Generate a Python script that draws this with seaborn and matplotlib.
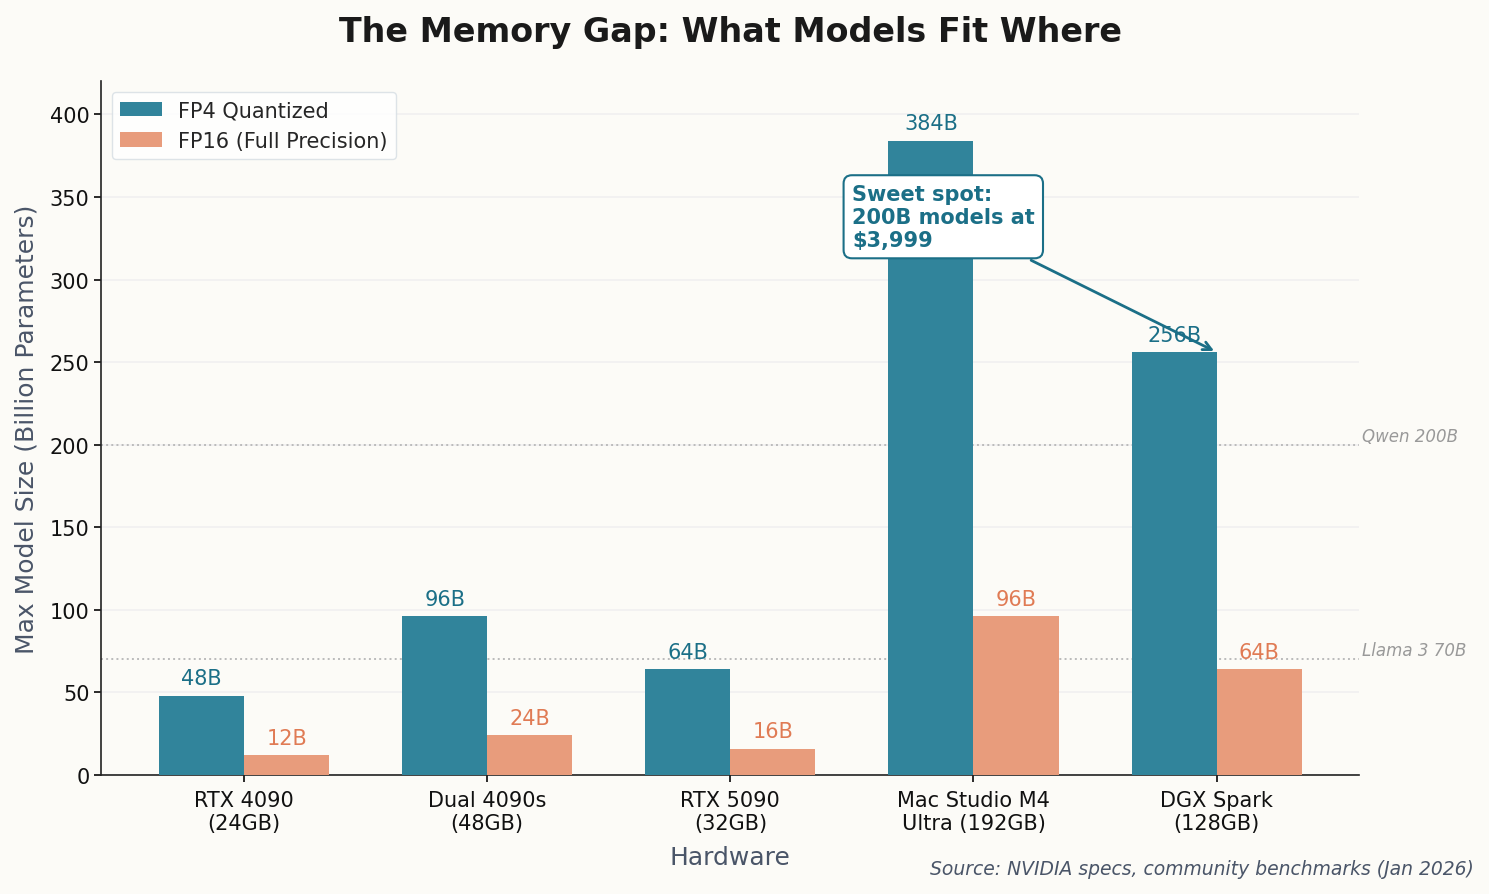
import matplotlib
matplotlib.use("Agg")
import matplotlib.pyplot as plt
import seaborn as sns
import pandas as pd

hardware = ["RTX 4090\n(24GB)", "Dual 4090s\n(48GB)", "RTX 5090\n(32GB)",
            "Mac Studio M4\nUltra (192GB)", "DGX Spark\n(128GB)"]
fp4 = [48, 96, 64, 384, 256]
fp16 = [12, 24, 16, 96, 64]
series = ["FP4 Quantized", "FP16 (Full Precision)"]
ref_lines = [200, 70]
ref_labels = ["Qwen 200B", "Llama 3 70B"]

teal = "#31849B"
salmon = "#E89C7C"
teal_txt = "#1B6F87"
salmon_txt = "#E07B54"
bg = "#FCFBF7"
muted = "#4A5568"

df = pd.DataFrame({
    "Hardware": hardware * 2,
    "Size": fp4 + fp16,
    "Precision": [series[0]] * len(hardware) + [series[1]] * len(hardware),
})

sns.set_theme(style="white")
plt.rcParams['font.family'] = ['DejaVu Sans']

fig, ax = plt.subplots(figsize=(14.89, 8.95), dpi=100)
fig.patch.set_facecolor(bg)
ax.set_facecolor(bg)

sns.barplot(data=df, x="Hardware", y="Size", hue="Precision",
            palette=[teal, salmon], width=0.7, gap=0, saturation=1,
            linewidth=0, edgecolor="none", ax=ax, zorder=3)

for cont, col in zip(ax.containers, [teal_txt, salmon_txt]):
    ax.bar_label(cont, labels=[f"{int(v)}B" for v in cont.datavalues],
                 padding=5.5, color=col, fontsize=15)

ax.set_ylim(0, 420)
ax.set_xlim(-0.5875, 4.5875)
ax.yaxis.grid(True, color="#F0F0F0", linewidth=1.2, zorder=0)
ax.set_axisbelow(True)
for s in ["top", "right"]:
    ax.spines[s].set_visible(False)
for s in ["left", "bottom"]:
    ax.spines[s].set_color("#222222")
    ax.spines[s].set_linewidth(1.2)
ax.tick_params(axis="both", labelsize=15, colors="#111111", length=5, left=True, bottom=True)
ax.tick_params(axis="x", pad=6)

xmin, xmax = ax.get_xlim()
for val, lab in zip(ref_lines, ref_labels):
    ax.axhline(val, color="#BBBBBB", linestyle=":", linewidth=1.4, zorder=1)
    ax.text(xmax + 0.01, val, lab, fontsize=12, style="italic", color="#999999",
            ha="left", va="bottom")

ax.set_xlabel("Hardware", fontsize=18, color=muted, labelpad=8)
ax.set_ylabel("Max Model Size (Billion Parameters)", fontsize=18, color=muted, labelpad=8)
ax.set_title("The Memory Gap: What Models Fit Where", fontsize=24, fontweight="bold",
             color="#1a1a1a", pad=29)

leg = ax.legend(loc="upper left", fontsize=15, frameon=True, title=None,
                handlelength=2.0)
leg.get_frame().set_facecolor("white")
leg.get_frame().set_edgecolor("#D5DDE3")

ax.annotate("Sweet spot:\n200B models at\n$3,999", xy=(4.0, 256), xytext=(2.5, 338),
            fontsize=15, fontweight="bold", color=teal_txt, ha="left", va="center",
            bbox=dict(boxstyle="round,pad=0.4", fc="white", ec=teal_txt, lw=1.5),
            arrowprops=dict(arrowstyle="->", color=teal_txt, lw=2), zorder=5)

fig.text(0.99, 0.018, "Source: NVIDIA specs, community benchmarks (Jan 2026)",
         ha="right", va="bottom", fontsize=13.5, style="italic", color=muted)

fig.subplots_adjust(left=0.068, right=0.913, top=0.908, bottom=0.133)
fig.savefig("out.png", dpi=100, facecolor=bg)
